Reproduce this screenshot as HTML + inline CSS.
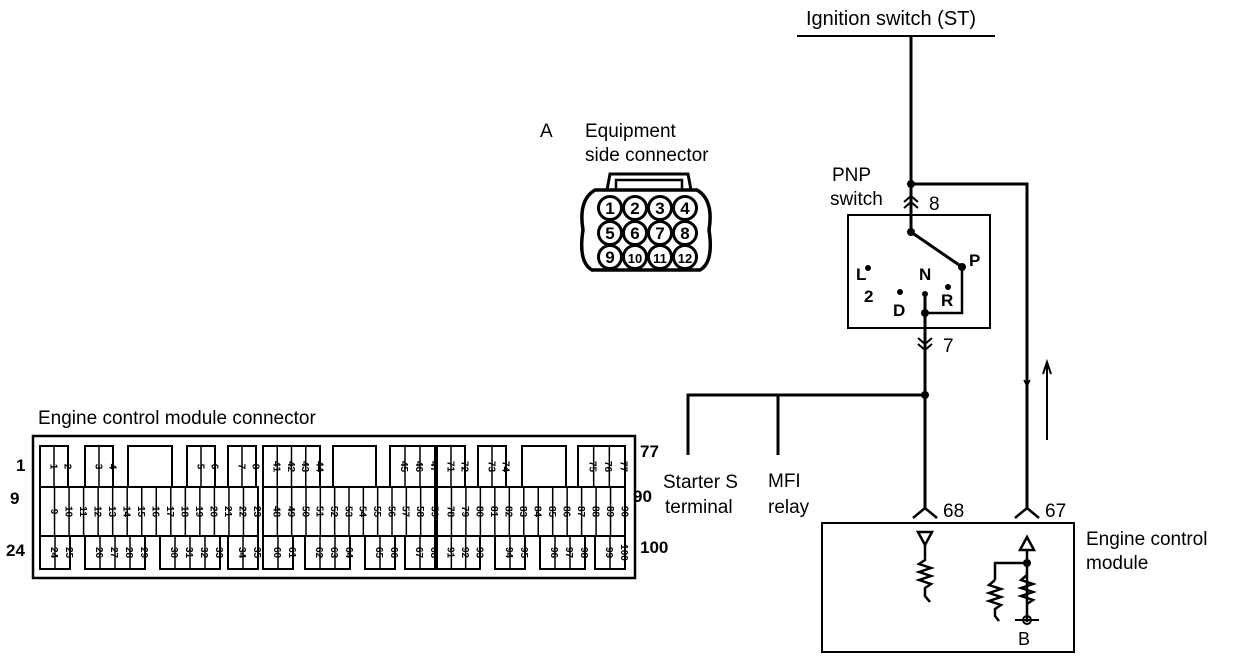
<!DOCTYPE html>
<html><head><meta charset="utf-8"><style>
body{margin:0;background:#fff}
svg{display:block}
text{font-family:"Liberation Sans",sans-serif;fill:#000}
</style></head><body>
<svg id="s" width="1248" height="662" viewBox="0 0 1248 662" xmlns="http://www.w3.org/2000/svg">
<g stroke="#000" fill="none" stroke-width="3">
 <line x1="797" y1="36" x2="995" y2="36" stroke-width="2"/>
 <line x1="911" y1="36" x2="911" y2="232"/>
 <polyline points="911,184 1027,184 1027,510"/>
 <polyline points="904,202 911,196 918,202" stroke-width="2"/>
 <polyline points="904,208 911,202 918,208" stroke-width="2"/>
 <rect x="848" y="215" width="142" height="113" stroke-width="2"/>
 <line x1="911" y1="232" x2="962" y2="267"/>
 <polyline points="962,267 962,313 925,313" stroke-width="2.5"/>
 <line x1="925" y1="295" x2="925" y2="510"/>
 <polyline points="918,338 925,344 932,338" stroke-width="2"/>
 <polyline points="918,344 925,350 932,344" stroke-width="2"/>
 <polyline points="688,455 688,395 925,395"/>
 <line x1="778" y1="395" x2="778" y2="455"/>
 <line x1="1047" y1="365" x2="1047" y2="440" stroke-width="2"/>
 <polyline points="1043,374 1047,362 1051,374" stroke-width="2"/>
 <polyline points="1024,380 1027,386 1030,380" stroke-width="1.5"/>
 <polyline points="913,518 925,508 937,518" stroke-width="2.5"/>
 <polyline points="1015,518 1027,508 1039,518" stroke-width="2.5"/>
 <rect x="822" y="523" width="252" height="129" stroke-width="2"/>
 <polygon points="918,532 932,532 925,545" stroke-width="2.5"/>
 <polyline points="925,545 925,560 919,564 931,568 919,572 931,576 919,580 931,584 925,588 925,596 930,602" stroke-width="2.5"/>
 <polygon points="1020,550 1034,550 1027,537" stroke-width="2.5"/>
 <polyline points="1027,550 1027,622" stroke-width="2.5"/>
 <polyline points="1027,575 1021,580 1033,584 1021,588 1033,592 1021,596 1033,600 1027,604" stroke-width="2.5"/>
 <polyline points="1027,563 995,563 995,580" stroke-width="2.5"/>
 <polyline points="995,580 989,585 1001,589 989,593 1001,597 989,601 1001,605 995,609 995,616 999,621" stroke-width="2.5"/>
 <line x1="1015" y1="620" x2="1039" y2="620" stroke-width="2"/>
 <circle cx="1027" cy="620" r="4" stroke-width="2"/>
 <path d="M607,190 L610,174 L688,174 L691,190" stroke-width="3"/>
 <rect x="616" y="180" width="66" height="10" stroke-width="2.5"/>
 <path d="M595,190 Q578,200 583,230 Q578,262 592,270 L700,270 Q714,262 709,230 Q714,200 697,190 Z" stroke-width="3.5"/>
 <rect x="33" y="436" width="602" height="142" stroke-width="2.5"/>
</g>
<g fill="#000">
 <circle cx="911" cy="184" r="4"/><circle cx="911" cy="232" r="4"/><circle cx="962" cy="267" r="4"/>
 <circle cx="925" cy="313" r="4"/><circle cx="925" cy="395" r="4"/><circle cx="1027" cy="563" r="4"/>
 <circle cx="868" cy="268" r="3"/><circle cx="900" cy="292" r="3"/><circle cx="925" cy="294" r="3"/><circle cx="948" cy="287" r="3"/>
</g>
<g id="conA" font-weight="bold" font-size="17" text-anchor="middle"></g>
<g id="ecm"></g>
<text x="806" y="25" font-size="20">Ignition switch (ST)</text>
<text x="540" y="137" font-size="19">A</text>
<text x="585" y="137" font-size="19">Equipment</text>
<text x="585" y="161" font-size="19">side connector</text>
<text x="832" y="181" font-size="19">PNP</text>
<text x="830" y="205" font-size="19">switch</text>
<text x="929" y="210" font-size="19">8</text>
<text x="943" y="352" font-size="19">7</text>
<text x="969" y="266" font-size="17" font-weight="bold">P</text>
<text x="919" y="280" font-size="17" font-weight="bold">N</text>
<text x="941" y="306" font-size="17" font-weight="bold">R</text>
<text x="893" y="316" font-size="17" font-weight="bold">D</text>
<text x="864" y="302" font-size="17" font-weight="bold">2</text>
<text x="856" y="280" font-size="17" font-weight="bold">L</text>
<text x="663" y="488" font-size="19">Starter S</text>
<text x="665" y="513" font-size="19">terminal</text>
<text x="768" y="487" font-size="19">MFI</text>
<text x="768" y="513" font-size="19">relay</text>
<text x="943" y="517" font-size="19">68</text>
<text x="1045" y="517" font-size="19">67</text>
<text x="1086" y="545" font-size="19">Engine control</text>
<text x="1086" y="569" font-size="19">module</text>
<text x="1018" y="645" font-size="18">B</text>
<text x="38" y="424" font-size="19">Engine control module connector</text>
<text x="16" y="471" font-size="17" font-weight="bold">1</text>
<text x="10" y="504" font-size="17" font-weight="bold">9</text>
<text x="6" y="556" font-size="17" font-weight="bold">24</text>
<text x="640" y="457" font-size="17" font-weight="bold">77</text>
<text x="633" y="502" font-size="17" font-weight="bold">90</text>
<text x="640" y="553" font-size="17" font-weight="bold">100</text>
</svg>
<script>
var NS="http://www.w3.org/2000/svg";
function el(p,t,a,txt){var e=document.createElementNS(NS,t);for(var k in a)e.setAttribute(k,a[k]);if(txt!=null)e.textContent=txt;p.appendChild(e);return e;}
var A=document.getElementById("conA");
var n=1;
[[208,[610,635,660,685]],[233,[610,635,660,685]],[257,[610,635,660,685]]].forEach(function(r){
 r[1].forEach(function(x){el(A,"circle",{cx:x,cy:r[0],r:11.5,fill:"none",stroke:"#000","stroke-width":3});
 el(A,"text",{x:x,y:r[0]+6,"font-size":n>9?13:17},String(n));n++;});
});
var G=document.getElementById("ecm");
function cells(x0,x1,y0,y1,nums){
 var w=(x1-x0)/nums.length;
 el(G,"rect",{x:x0,y:y0,width:x1-x0,height:y1-y0,fill:"none",stroke:"#000","stroke-width":2});
 nums.forEach(function(v,i){
  var x=x0+i*w;
  if(i>0)el(G,"line",{x1:x,y1:y0,x2:x,y2:y1,stroke:"#000","stroke-width":1.5});
  var cx=x+w/2,cy=(y0+y1)/2;
  el(G,"text",{x:0,y:0,"font-size":10,"font-weight":"bold","text-anchor":"middle",transform:"translate("+(cx+3.5)+","+cy+") rotate(90)"},String(v));
 });
}
function blank(x0,x1,y0,y1){el(G,"rect",{x:x0,y:y0,width:x1-x0,height:y1-y0,fill:"none",stroke:"#000","stroke-width":2});}
var y0=446,y1=487,y2=536,y3=569;
cells(40,68,y0,y1,[1,2]);cells(85,113,y0,y1,[3,4]);blank(128,172,y0,y1);
cells(187,215,y0,y1,[5,6]);cells(228,256,y0,y1,[7,8]);cells(263,320,y0,y1,[41,42,43,44]);
blank(333,376,y0,y1);cells(390,435,y0,y1,[45,46,47]);cells(437,465,y0,y1,[71,72]);
cells(478,506,y0,y1,[73,74]);blank(522,566,y0,y1);cells(578,625,y0,y1,[75,76,77]);
var r2a=[];for(var i=9;i<=23;i++)r2a.push(i);cells(40,258,y1,y2,r2a);
var r2b=[];for(i=48;i<=59;i++)r2b.push(i);cells(263,435,y1,y2,r2b);
var r2c=[];for(i=78;i<=90;i++)r2c.push(i);cells(437,625,y1,y2,r2c);
cells(40,70,y2,y3,[24,25]);cells(85,145,y2,y3,[26,27,28,29]);cells(160,220,y2,y3,[30,31,32,33]);
cells(228,258,y2,y3,[34,35]);cells(263,293,y2,y3,[60,61]);cells(305,350,y2,y3,[62,63,64]);
cells(365,395,y2,y3,[65,66]);cells(405,435,y2,y3,[67,68]);cells(437,480,y2,y3,[91,92,93]);
cells(495,525,y2,y3,[94,95]);cells(540,585,y2,y3,[96,97,98]);cells(595,625,y2,y3,[99,100]);
</script>
</body></html>
